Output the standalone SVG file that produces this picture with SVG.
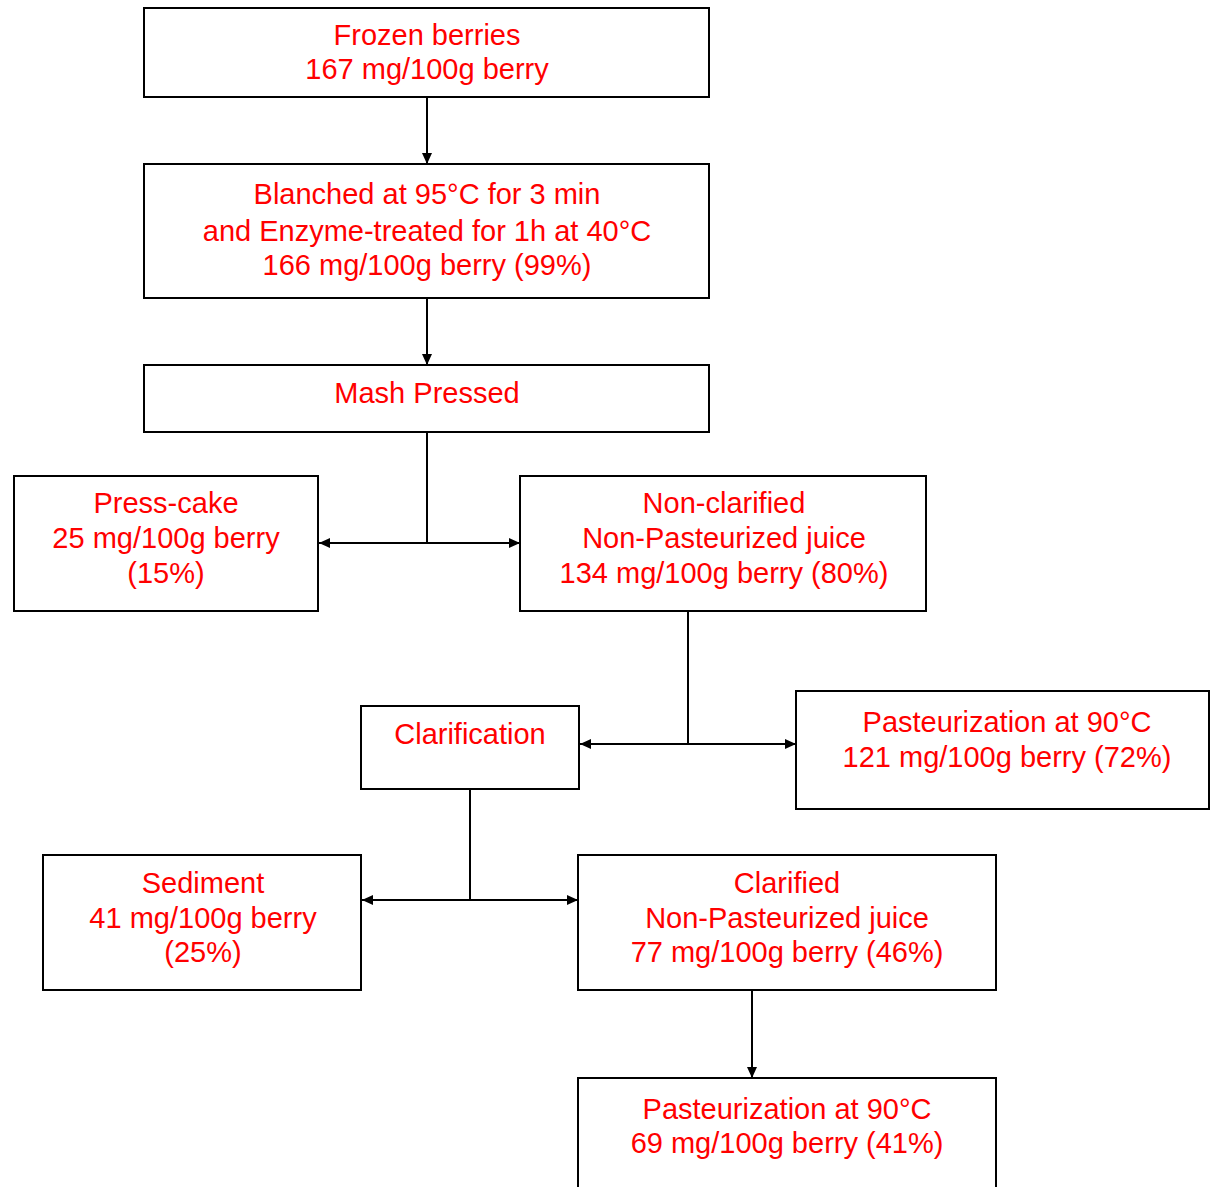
<svg xmlns="http://www.w3.org/2000/svg" width="1210" height="1187" viewBox="0 0 1210 1187">
<style>
.box{fill:#fff;stroke:#000;stroke-width:2}
.t{font-family:"Liberation Sans",Arial,sans-serif;font-size:29px;fill:#ff0000;text-anchor:middle}
.c{fill:none;stroke:#000;stroke-width:2}
</style>
<defs>
<marker id="ah" markerWidth="11" markerHeight="10" refX="11" refY="5" orient="auto" markerUnits="userSpaceOnUse">
<path d="M0,0 L11,5 L0,10 Z" fill="#000"/>
</marker>
</defs>
<rect width="1210" height="1187" fill="#fff"/>
<g id="connectors">
<path class="c" d="M427,97 V164" marker-end="url(#ah)"/>
<path class="c" d="M427,298 V365" marker-end="url(#ah)"/>
<path class="c" d="M427,432 V543"/>
<path class="c" d="M427,543 H319" marker-end="url(#ah)"/>
<path class="c" d="M427,543 H520" marker-end="url(#ah)"/>
<path class="c" d="M688,611 V744"/>
<path class="c" d="M688,744 H580" marker-end="url(#ah)"/>
<path class="c" d="M688,744 H796" marker-end="url(#ah)"/>
<path class="c" d="M470,789 V900"/>
<path class="c" d="M470,900 H362" marker-end="url(#ah)"/>
<path class="c" d="M470,900 H578" marker-end="url(#ah)"/>
<path class="c" d="M752,990 V1078" marker-end="url(#ah)"/>
</g>
<g id="frozen">
<rect class="box" x="144" y="8" width="565" height="89"/>
<text class="t" x="427" y="45">Frozen berries</text>
<text class="t" x="427" y="79">167 mg/100g berry</text>
</g>
<g id="blanched">
<rect class="box" x="144" y="164" width="565" height="134"/>
<text class="t" x="427" y="204">Blanched at 95°C for 3 min</text>
<text class="t" x="427" y="241">and Enzyme-treated for 1h at 40°C</text>
<text class="t" x="427" y="275">166 mg/100g berry (99%)</text>
</g>
<g id="mash">
<rect class="box" x="144" y="365" width="565" height="67"/>
<text class="t" x="427" y="403">Mash Pressed</text>
</g>
<g id="presscake">
<rect class="box" x="14" y="476" width="304" height="135"/>
<text class="t" x="166" y="513">Press-cake</text>
<text class="t" x="166" y="548">25 mg/100g berry</text>
<text class="t" x="166" y="583">(15%)</text>
</g>
<g id="nonclarified">
<rect class="box" x="520" y="476" width="406" height="135"/>
<text class="t" x="724" y="513">Non-clarified</text>
<text class="t" x="724" y="548">Non-Pasteurized juice</text>
<text class="t" x="724" y="583">134 mg/100g berry (80%)</text>
</g>
<g id="clarification">
<rect class="box" x="361" y="706" width="218" height="83"/>
<text class="t" x="470" y="744">Clarification</text>
</g>
<g id="past1">
<rect class="box" x="796" y="691" width="413" height="118"/>
<text class="t" x="1007" y="732">Pasteurization at 90°C</text>
<text class="t" x="1007" y="767">121 mg/100g berry (72%)</text>
</g>
<g id="sediment">
<rect class="box" x="43" y="855" width="318" height="135"/>
<text class="t" x="203" y="893">Sediment</text>
<text class="t" x="203" y="928">41 mg/100g berry</text>
<text class="t" x="203" y="962">(25%)</text>
</g>
<g id="clarified">
<rect class="box" x="578" y="855" width="418" height="135"/>
<text class="t" x="787" y="893">Clarified</text>
<text class="t" x="787" y="928">Non-Pasteurized juice</text>
<text class="t" x="787" y="962">77 mg/100g berry (46%)</text>
</g>
<g id="past2">
<rect class="box" x="578" y="1078" width="418" height="130"/>
<text class="t" x="787" y="1119">Pasteurization at 90°C</text>
<text class="t" x="787" y="1153">69 mg/100g berry (41%)</text>
</g>
</svg>
